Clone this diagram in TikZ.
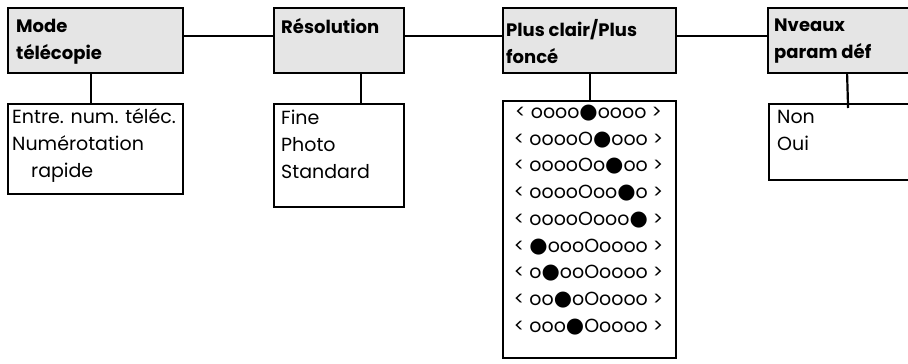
\documentclass[tikz,border=0pt]{standalone}
\usepackage{fontspec}
\setmainfont{Poppins}
\newfontfamily\symfont{DejaVu Sans}
\newcommand{\plein}{{\symfont\fontsize{21}{21}\selectfont ●}}
\begin{document}
\begin{tikzpicture}[x=1pt, y=-1pt,
    titre/.style={draw, line width=2.2pt, fill=black!10, anchor=north west,
        minimum height=65pt, inner sep=0pt},
    liste/.style={draw, line width=2.2pt, fill=white, anchor=north west, inner sep=0pt},
    ttxt/.style={anchor=north west, align=left, inner sep=0pt,
        font=\bfseries\fontsize{18}{27}\selectfont},
    ltxt/.style={anchor=north west, align=left, inner sep=0pt,
        font=\fontsize{19}{27}\selectfont},
    rang/.style={inner sep=0pt, font=\fontsize{19}{20}\selectfont},
    lien/.style={line width=2.2pt}]
    \clip (0,0) rectangle (908,364);

    % Menus du haut
    \node[titre, minimum width=175pt] (mode) at (7,7) {};
    \node[titre, minimum width=130pt] (reso) at (273,7) {};
    \node[titre, minimum width=173pt] (clair) at (502,7) {};
    \node[titre, minimum width=158pt] (niveaux) at (767,7) {};
    \node[ttxt] (tmode) at ([shift={(9,12)}]mode.north west) {Mode\\télécopie};
    \node[ttxt] (treso) at ([shift={(8,11)}]reso.north west) {Résolution};
    \node[ttxt] (tclair) at ([shift={(4,12)}]clair.north west) {Plus clair/Plus\\foncé};
    \node[ttxt] (tniveaux) at ([shift={(7,12)}]niveaux.north west) {Nveaux\\param déf};

    % Sous-menus
    \node[liste, minimum width=175pt, minimum height=90pt] (envoi) at (7,103) {};
    \node[liste, minimum width=130pt, minimum height=103pt] (qualite) at (273,103) {};
    \node[liste, minimum width=173pt, minimum height=257pt] (contraste) at (502,100) {};
    \node[liste, minimum width=158pt, minimum height=76pt] (defaut) at (768,103) {};
    \node[ltxt] (lenvoi) at ([shift={(5,5)}]envoi.north west)
        {Entre. num. téléc.\\Numérotation\\\hspace*{19pt}rapide};
    \node[ltxt] (lqualite) at ([shift={(8,7)}]qualite.north west) {Fine\\Photo\\Standard};
    \node[ltxt] (ldefaut) at ([shift={(9,7)}]defaut.north west) {Non\\Oui};

    % Niveaux de contraste
    \foreach \r [count=\i] in {oooo\plein oooo, ooooO\plein ooo, ooooOo\plein oo,
        ooooOoo\plein o, ooooOooo\plein, \plein oooOoooo, o\plein ooOoooo,
        oo\plein oOoooo, ooo\plein Ooooo} {
        \node[rang] (r\i) at (588.5, {113+26.75*(\i-1)}) {< \r{} >};
    }

    % Liaisons
    \draw[lien] ([yshift=4.5pt]mode.east) -- ([yshift=4.5pt]reso.west);
    \draw[lien] ([yshift=4.5pt]reso.east) -- ([yshift=4.5pt]clair.west);
    \draw[lien] ([yshift=4.5pt]clair.east) -- ([yshift=4.5pt]niveaux.west);
    \draw[lien] ([xshift=-4.5pt]mode.south) -- ([xshift=-4.5pt]envoi.north);
    \draw[lien] ([xshift=22pt]reso.south) -- ([xshift=22pt]qualite.north);
    \draw[lien] (clair.south) -- (contraste.north);
    \draw[lien] (niveaux.south) -- ([yshift=-5pt]defaut.north);
\end{tikzpicture}
\end{document}
